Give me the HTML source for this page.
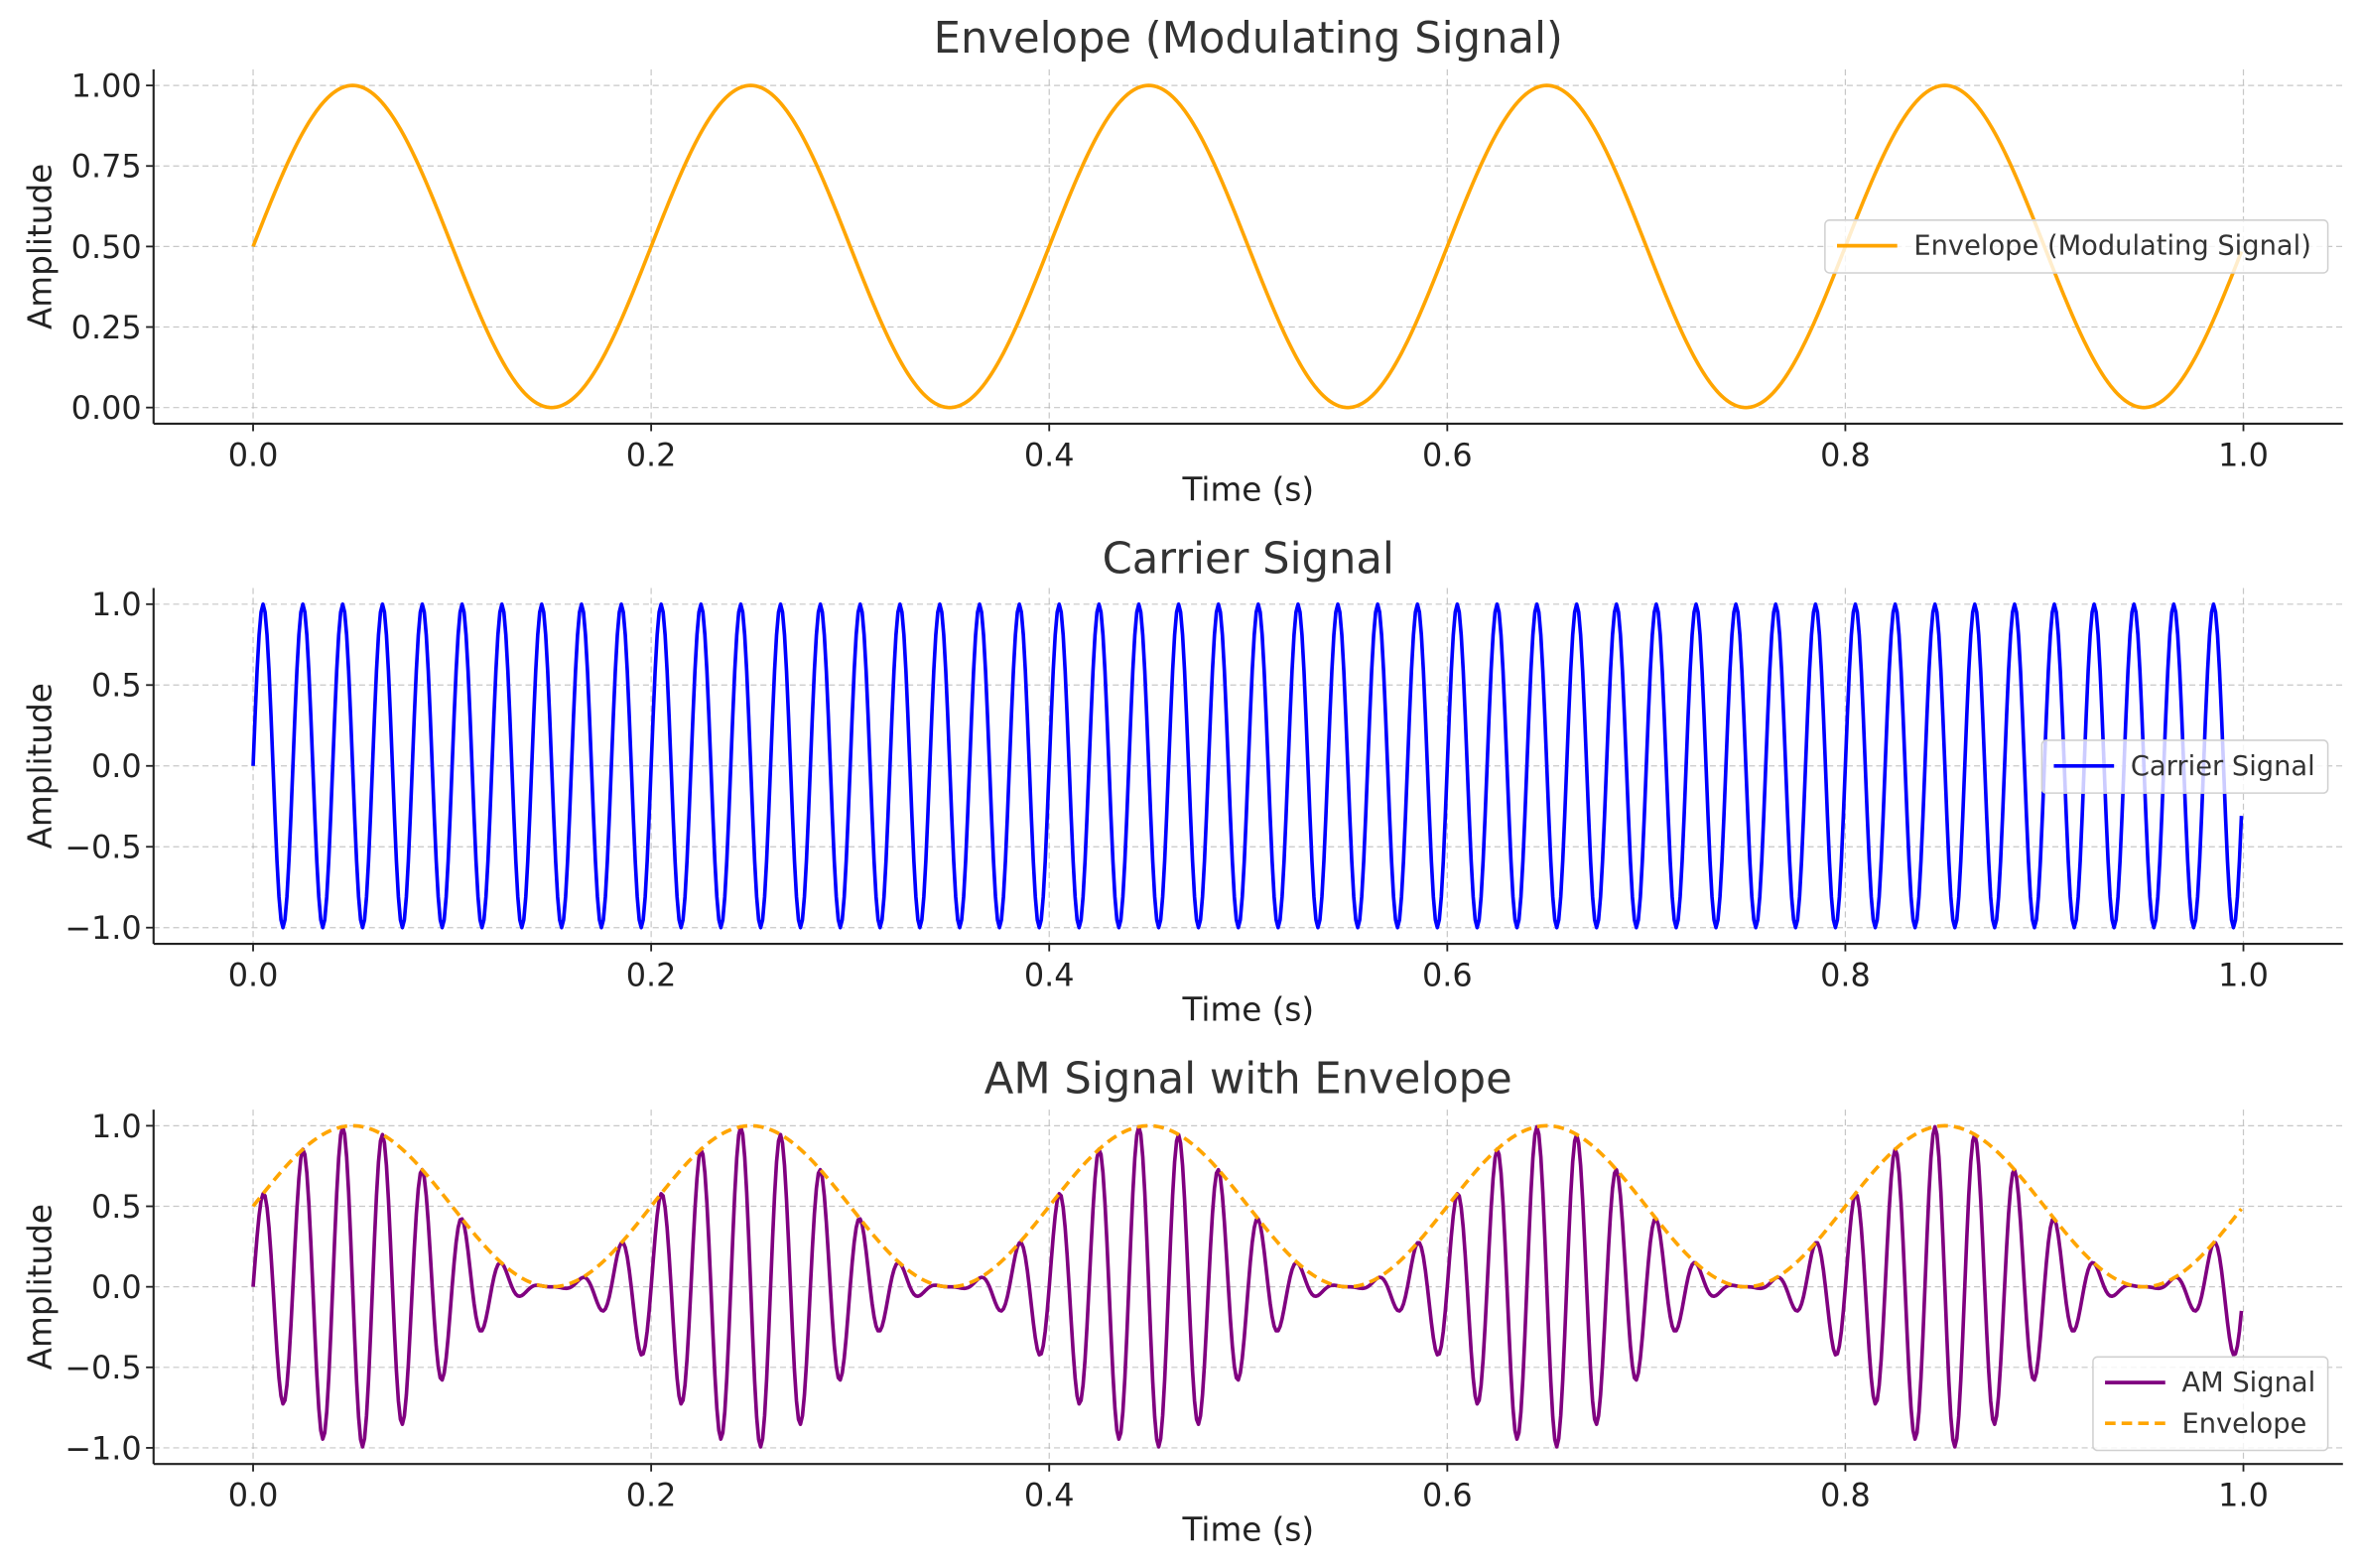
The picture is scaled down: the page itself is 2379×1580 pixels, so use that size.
<!DOCTYPE html>
<html><head><meta charset="utf-8">
<style>
html,body{margin:0;padding:0;background:#fff;}
svg{display:block;font-family:"DejaVu Sans","Liberation Sans",sans-serif;}
</style></head>
<body>
<svg id="chart" width="2379" height="1580" viewBox="0 0 1568 1040" preserveAspectRatio="none" xmlns="http://www.w3.org/2000/svg"></svg>
<script>
// ---- data ----
const envelopeFreq = [5];          // Hz
const carrierFreq = [50];          // Hz
const sampleCount = [1000];        // samples over 1 s (endpoint excluded)
const xTicks = [0.0, 0.2, 0.4, 0.6, 0.8, 1.0];
const xTickLabels = ["0.0","0.2","0.4","0.6","0.8","1.0"];
const envYTicks = [0, 0.25, 0.5, 0.75, 1.0];
const envYTickLabels = ["0.00","0.25","0.50","0.75","1.00"];
const sigYTicks = [-1, -0.5, 0, 0.5, 1];
const sigYTickLabels = ["\u22121.0","\u22120.5","0.0","0.5","1.0"];
const titles = ["Envelope (Modulating Signal)","Carrier Signal","AM Signal with Envelope"];

const N = sampleCount[0];
const times = [];
for (let i = 0; i < N; i++) times.push(i / N);
const envelope = times.map(t => 0.5 + 0.5 * Math.sin(2 * Math.PI * envelopeFreq[0] * t));
const carrier = times.map(t => Math.sin(2 * Math.PI * carrierFreq[0] * t));
const amSignal = times.map((t, i) => envelope[i] * carrier[i]);

const NS = "http://www.w3.org/2000/svg";
const svg = document.getElementById('chart');
function mk(tag, attrs, parent) {
  const e = document.createElementNS(NS, tag);
  for (const k in attrs) e.setAttribute(k, attrs[k]);
  (parent || svg).appendChild(e);
  return e;
}

const panels = [
  {top: 46, bottom: 281, ymin: -0.05, ymax: 1.05, yt: envYTicks, ytl: envYTickLabels, titleY: 35, xlabY: 332, name: 'envelope'},
  {top: 390, bottom: 626, ymin: -1.1, ymax: 1.1, yt: sigYTicks, ytl: sigYTickLabels, titleY: 380, xlabY: 677, name: 'carrier'},
  {top: 736, bottom: 971, ymin: -1.1, ymax: 1.1, yt: sigYTicks, ytl: sigYTickLabels, titleY: 725, xlabY: 1022, name: 'am'}
];
const L = 102, R = 1556;
const xmin = -0.05, xmax = 1.05;

panels.forEach((p, pi) => {
  const g = mk('g', {});
  
  
  const xs = v => L + (v - xmin) / (xmax - xmin) * (R - L);
  const ys = v => p.bottom - (v - p.ymin) / (p.ymax - p.ymin) * (p.bottom - p.top);

  xTicks.forEach(v => {
    const l = mk('line', {x1: xs(v), x2: xs(v), y1: p.top, y2: p.bottom, stroke: '#b0b0b0', 'stroke-width': 0.8, 'stroke-dasharray': '4,2.5', opacity: 0.7}, g);
    
    
  });
  p.yt.forEach(v => {
    const l = mk('line', {x1: L, x2: R, y1: ys(v), y2: ys(v), stroke: '#b0b0b0', 'stroke-width': 0.8, 'stroke-dasharray': '4,2.5', opacity: 0.7}, g);
    
    
  });

  function line(arr, color, dash, name) {
    let d = '';
    arr.forEach((v, i) => { d += (i ? 'L' : 'M') + xs(times[i]).toFixed(2) + ',' + ys(v).toFixed(2); });
    const path = mk('path', {d: d, fill: 'none', stroke: color, 'stroke-width': 2.4, 'stroke-linejoin': 'round'}, g);
    if (dash) path.setAttribute('stroke-dasharray', dash);
    
    
  }
  if (pi === 0) line(envelope, '#ffa500', null, 'envelope-line');
  if (pi === 1) line(carrier, '#0000ff', null, 'carrier-line');
  if (pi === 2) { line(amSignal, '#800080', null, 'am-signal-line'); line(envelope, '#ffa500', '7,4', 'envelope-dashed-line'); }

  const sl = mk('line', {x1: L, x2: L, y1: p.top, y2: p.bottom, stroke: '#222', 'stroke-width': 1.4}, g);
  
  
  const sb = mk('line', {x1: L, x2: R, y1: p.bottom, y2: p.bottom, stroke: '#222', 'stroke-width': 1.4}, g);
  
  

  xTicks.forEach((v, i) => {
    mk('line', {x1: xs(v), x2: xs(v), y1: p.bottom, y2: p.bottom + 5, stroke: '#222', 'stroke-width': 1.2}, g);
    const t = mk('text', {x: xs(v), y: p.bottom + 28, 'text-anchor': 'middle', 'font-size': 21, fill: '#222'}, g);
    t.textContent = xTickLabels[i];
    
    
  });
  p.yt.forEach((v, i) => {
    mk('line', {x1: L - 5, x2: L, y1: ys(v), y2: ys(v), stroke: '#222', 'stroke-width': 1.2}, g);
    const t = mk('text', {x: L - 8, y: ys(v) + 7.5, 'text-anchor': 'end', 'font-size': 21, fill: '#222'}, g);
    t.textContent = p.ytl[i];
    
    
  });

  const tt = mk('text', {x: 829, y: p.titleY, 'text-anchor': 'middle', 'font-size': 28.5, fill: '#333'}, g);
  tt.textContent = titles[pi];
  
  
  const xl = mk('text', {x: 829, y: p.xlabY, 'text-anchor': 'middle', 'font-size': 21.5, fill: '#222'}, g);
  xl.textContent = 'Time (s)';
  
  
  const cy = (p.top + p.bottom) / 2;
  const yl = mk('text', {x: 0, y: 0, 'text-anchor': 'middle', 'font-size': 21.5, fill: '#222', transform: 'translate(34,' + cy + ') rotate(-90)'}, g);
  yl.textContent = 'Amplitude';
  
  
});

function legend(x, y, w, entries) {
  const g = mk('g', {});
  
  
  const h = 8 + entries.length * 27;
  mk('rect', {x: x, y: y, width: w, height: h, rx: 3, fill: 'rgba(255,255,255,0.8)', stroke: '#d0d0d0', 'stroke-width': 1}, g);
  entries.forEach((e, i) => {
    const cy = y + 17 + i * 27;
    const ln = mk('line', {x1: x + 8, x2: x + 48, y1: cy, y2: cy, stroke: e.color, 'stroke-width': 2.4}, g);
    if (e.dash) ln.setAttribute('stroke-dasharray', '7,4');
    const t = mk('text', {x: x + 59, y: cy + 6, 'font-size': 18, fill: '#333'}, g);
    t.textContent = e.label;
    
    
  });
}
legend(1212, 146, 334, [{label: 'Envelope (Modulating Signal)', color: '#ffa500'}]);
legend(1356, 491, 190, [{label: 'Carrier Signal', color: '#0000ff'}]);
legend(1390, 900, 156, [{label: 'AM Signal', color: '#800080'}, {label: 'Envelope', color: '#ffa500', dash: true}]);
</script>
</body></html>
